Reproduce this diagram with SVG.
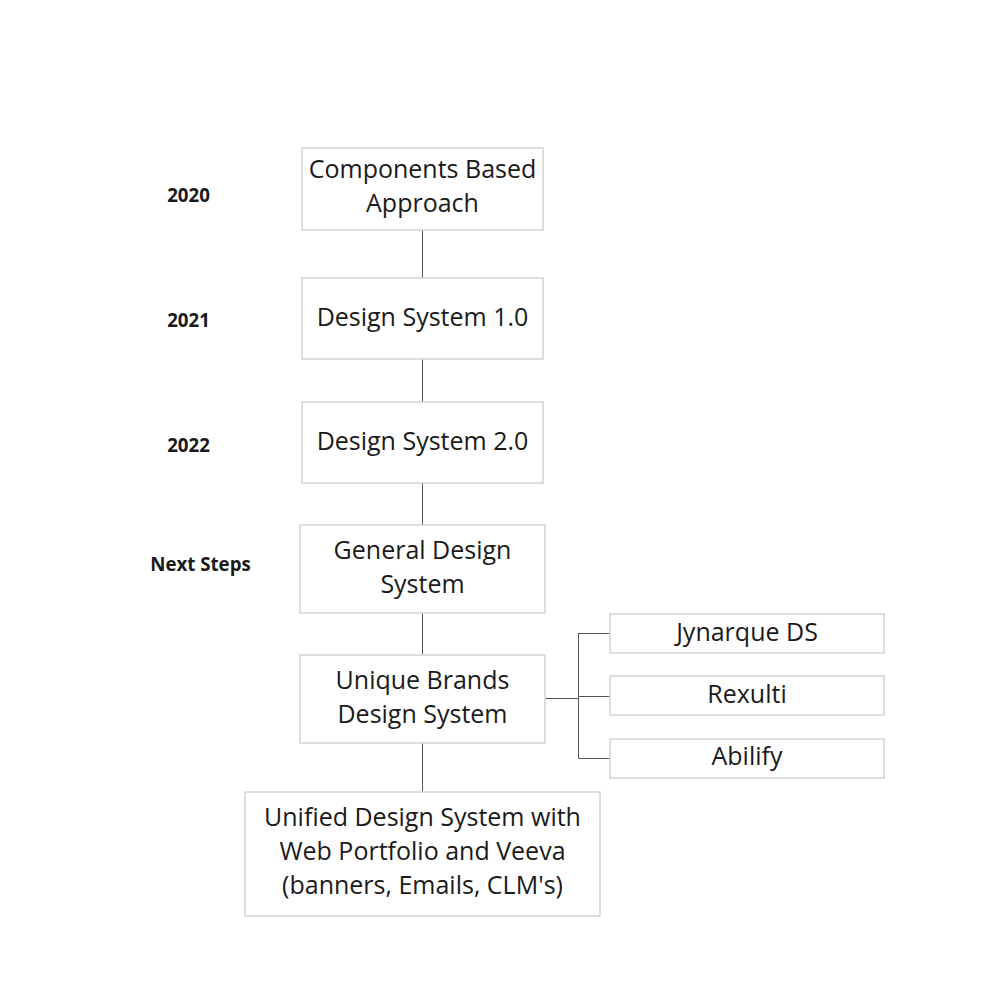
<svg xmlns="http://www.w3.org/2000/svg" width="993" height="1006" viewBox="0 0 993 1006">
<style>
.box{fill:#fff;stroke:#d3d3d3;stroke-width:1.5}
.t{font-family:"Open Sans","Noto Sans",sans-serif;font-size:25px;fill:#1a1a1a;text-anchor:middle}
.y{font-family:"Open Sans","Noto Sans",sans-serif;font-size:18.7px;font-weight:bold;fill:#1a1a1a;text-anchor:middle}
.c{fill:none;stroke:#555;stroke-width:1}
</style>
<rect width="993" height="1006" fill="#fff"/>
<g id="connectors">
<path class="c" d="M422.5 230V278M422.5 359V402M422.5 483V525M422.5 613V655M422.5 743V792"/>
<path class="c" d="M545 698.5H578.5M578.5 633V758M578.5 633.5H610M578.5 696.5H610M578.5 758.5H610"/>
</g>
<g id="labels">
<text class="y" x="188.5" y="202">2020</text>
<text class="y" x="188.5" y="327">2021</text>
<text class="y" x="188.5" y="452">2022</text>
<text class="y" x="200.5" y="571">Next Steps</text>
</g>
<g id="n1"><rect class="box" x="302" y="148" width="241" height="82"/><text class="t" x="422.5" y="178">Components Based</text><text class="t" x="422.5" y="212">Approach</text></g>
<g id="n2"><rect class="box" x="302" y="278" width="241" height="81"/><text class="t" x="422.5" y="326">Design System 1.0</text></g>
<g id="n3"><rect class="box" x="302" y="402" width="241" height="81"/><text class="t" x="422.5" y="450">Design System 2.0</text></g>
<g id="n4"><rect class="box" x="300" y="525" width="245" height="88"/><text class="t" x="422.5" y="559">General Design</text><text class="t" x="422.5" y="593">System</text></g>
<g id="n5"><rect class="box" x="300" y="655" width="245" height="88"/><text class="t" x="422.5" y="689">Unique Brands</text><text class="t" x="422.5" y="723">Design System</text></g>
<g id="n6"><rect class="box" x="245" y="792" width="355" height="124"/><text class="t" x="422.5" y="826">Unified Design System with</text><text class="t" x="422.5" y="860">Web Portfolio and Veeva</text><text class="t" x="422.5" y="894">(banners, Emails, CLM's)</text></g>
<g id="n7"><rect class="box" x="610" y="614" width="274" height="39"/><text class="t" x="747" y="641">Jynarque DS</text></g>
<g id="n8"><rect class="box" x="610" y="676" width="274" height="39"/><text class="t" x="747" y="703">Rexulti</text></g>
<g id="n9"><rect class="box" x="610" y="739" width="274" height="39"/><text class="t" x="747" y="765">Abilify</text></g>
</svg>
